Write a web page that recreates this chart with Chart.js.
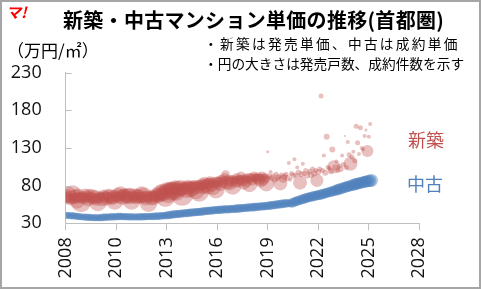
<!DOCTYPE html>
<html><head><meta charset="utf-8">
<script src="https://cdn.jsdelivr.net/npm/chart.js@4"></script>
<style>
body{margin:0;background:#fff;}
#wrap{position:relative;width:481px;height:289px;overflow:hidden;background:#fff;font-family:'Noto Sans CJK JP',sans-serif;}
#c{position:absolute;left:0;top:0;}
.t{position:absolute;white-space:nowrap;}
#frame{position:absolute;left:0;top:0;width:481px;height:289px;box-sizing:border-box;border:2px solid #a6a6a6;pointer-events:none;}
</style></head>
<body>
<div id="wrap">
<canvas id="c" width="481" height="289"></canvas>
<div class="t" style="left:6px;top:3px;font-size:15px;line-height:18px;font-weight:bold;font-style:italic;color:#ff0000;">マ!</div>
<div class="t" style="left:63px;top:10px;font-size:20px;line-height:20px;font-weight:bold;color:#000;letter-spacing:0.3px;">新築・中古マンション単価の推移(首都圏)</div>
<div class="t" style="left:7px;top:41px;font-size:17px;line-height:17px;color:#000;">（万円/㎡）</div>
<div class="t" style="left:204px;top:36px;font-size:13.7px;line-height:14px;color:#000;letter-spacing:2.3px;">・新築は発売単価、中古は成約単価</div>
<div class="t" style="left:204px;top:56px;font-size:13.7px;line-height:14px;color:#000;">・円の大きさは発売戸数、成約件数を示す</div>
<div class="t" style="left:408px;top:130px;font-size:18px;line-height:18px;color:#C0504D;">新築</div>
<div class="t" style="left:407px;top:174px;font-size:18px;line-height:18px;color:#4F81BD;">中古</div>
<div id="frame"></div>
</div>
<script>
// x axis: month index (0 = first tick), tick every 36 months
const xTickLabels = ["2008","2010","2013","2016","2019","2022","2025","2028"];
const yTicks = [30, 80, 130, 180, 230];

// 新築 (new condos): monthly unit price (万円/㎡) and bubble radius (sales volume)
const newY = [
  66,64,68,62,65,70,63,66,60,67,64,58,
  65,63,67,66,62,68,64,66,63,65,61,58,
  64,66,62,67,65,63,68,64,66,62,65,60,
  66,68,64,70,67,65,69,66,64,68,66,60,
  65,67,63,68,66,64,70,65,67,63,66,57,
  65,63,67,64,66,68,66,70,68,72,70,65,
  74,70,76,72,75,73,78,72,76,74,77,68,
  76,78,74,80,77,75,79,76,80,74,78,72,
  80,82,78,84,80,79,83,86,81,78,84,75,
  84,86,82,88,85,90,95,84,87,83,86,80,
  88,85,90,86,88,92,87,84,89,86,90,82,
  90,88,92,91,89,91,88,87,92,88,90,83,
  125,92,98,90,93,88,95,90,92,83,94,89,
  92,95,90,110,88,96,93,115,94,104,97,84,
  95,109,96,100,93,97,99,94,102,96,100,87,
  98,102,199,100,120,97,145,104,103,99,128,105,
  104,112,100,106,102,120,108,146,104,138,121,109,
  118,125,113,159,137,122,157,130,128,146,154,126,
  145,162
];
const newR = [
  7,6,8,6,7,8,6,7,8,7,6,10,
  6,6,7,6,7,6,6,7,6,7,6,9,
  6,5,7,6,6,7,6,6,7,6,7,9,
  6,7,6,7,6,8,6,7,6,7,8,9,
  6,7,6,6,7,6,7,6,8,7,6,9,
  6,7,6,7,6,7,7,8,7,8,8,10,
  8,10,7,9,8,9,7,9,8,7,8,11,
  7,6,8,6,7,8,6,7,6,9,7,10,
  6,6,7,6,7,8,6,5,7,8,6,9,
  6,5,7,5,6,5,4,7,6,7,6,9,
  5,6,5,6,5,5,6,7,5,6,5,8,
  5,6,5,4,5,5,6,7,5,6,5,8,
  1.5,3,2,3,2.5,3,2.5,3,2.5,7,2.5,4,
  3,2.5,3,2,2,2.5,3,2,2.5,2,3,7,
  3,2,2.5,2.5,3,2,2.5,3,2.5,3,2.5,6.5,
  3,2.5,2.5,2.5,2,3,3,2.5,2,3,3,6.5,
  3,2,2.5,2.5,3,2,2.5,1,2.5,2,2.5,7,
  2.5,2,2.5,2.5,2.5,2,2.5,2,2,2,1.5,6,
  2,2
];

// 中古 (resale condos): monthly contract unit price and bubble radius (contracts)
const usedY = [
  40.5,40.6,40.3,40.2,40.0,39.8,39.9,39.5,39.3,39.0,38.8,38.5,
  38.5,38.3,38.2,38.0,38.1,37.8,37.8,37.6,37.5,37.6,37.4,37.5,
  37.5,37.6,37.8,38.0,38.1,38.2,38.3,38.5,38.4,38.6,38.5,38.8,
  38.8,39.0,39.1,39.2,39.0,38.8,39.0,38.8,38.7,38.6,38.5,38.6,
  38.5,38.6,38.5,38.4,38.6,38.8,38.5,38.7,38.8,38.9,39.0,39.1,
  39.0,39.2,39.1,39.3,39.4,39.3,39.5,39.6,39.8,40.0,40.2,40.3,
  40.5,40.8,41.0,41.3,41.6,41.8,42.0,42.3,42.5,42.6,42.8,43.0,
  43.2,43.4,43.5,43.8,44.0,44.1,44.3,44.5,44.6,44.8,45.0,45.1,
  45.3,45.5,45.8,46.0,46.2,46.5,46.7,46.8,47.0,47.2,47.3,47.5,
  47.6,47.8,48.0,48.0,48.2,48.4,48.5,48.4,48.6,48.8,49.0,49.0,
  49.2,49.4,49.5,49.6,49.8,50.0,50.2,50.3,50.5,50.6,50.8,51.0,
  51.2,51.3,51.5,51.6,51.8,52.0,52.2,52.3,52.5,52.6,52.8,53.0,
  53.2,53.5,53.8,54.0,54.2,54.5,54.8,55.0,55.3,55.5,55.8,56.0,
  56.2,56.5,56.8,56.6,56.4,56.9,57.5,58.2,59.0,59.6,60.2,60.8,
  61.4,62.0,62.6,63.2,63.8,64.3,64.8,65.3,65.7,66.1,66.5,67.0,
  67.4,67.8,68.3,68.8,69.3,69.8,70.3,70.8,71.3,71.8,72.4,73.0,
  73.6,74.2,74.8,75.4,76.0,76.6,77.2,77.8,78.4,79.0,79.5,80.0,
  80.5,81.0,81.6,82.1,82.6,83.1,83.6,84.1,84.6,85.0,85.4,85.8,
  86.2,86.6,87.0
];
const usedR = [
  3.5,3.5,3.6,3.4,3.5,3.6,3.5,3.4,3.5,3.6,3.5,3.3,
  3.3,3.4,3.6,3.5,3.5,3.6,3.5,3.4,3.5,3.6,3.5,3.4,
  3.5,3.6,3.8,3.7,3.6,3.7,3.6,3.5,3.6,3.7,3.6,3.5,
  3.6,3.7,3.8,3.7,3.6,3.7,3.6,3.5,3.6,3.7,3.6,3.5,
  3.5,3.6,3.4,3.5,3.6,3.7,3.6,3.5,3.6,3.7,3.6,3.5,
  3.6,3.7,3.8,3.7,3.6,3.7,3.8,3.7,3.6,3.8,3.7,3.6,
  3.9,4.0,4.1,4.0,4.0,4.1,4.0,3.9,4.0,4.1,4.0,3.9,
  3.9,4.0,4.1,4.0,4.0,4.1,4.0,3.9,4.0,4.1,4.0,3.9,
  4.0,4.1,4.2,4.1,4.0,4.1,4.0,4.0,4.1,4.2,4.1,4.0,
  4.0,4.1,4.2,4.1,4.0,4.1,4.0,4.0,4.1,4.2,4.1,4.0,
  4.1,4.2,4.3,4.2,4.1,4.2,4.1,4.1,4.2,4.3,4.2,4.1,
  4.1,4.2,4.3,4.2,4.1,4.2,4.1,4.1,4.2,4.3,4.2,4.1,
  4.2,4.3,4.4,4.3,4.2,4.3,4.2,4.2,4.3,4.4,4.3,4.2,
  4.2,4.3,4.2,3.8,3.9,4.6,4.8,4.7,4.8,4.9,4.8,4.7,
  4.9,5.0,5.1,5.0,4.9,5.0,4.9,4.9,5.0,5.1,5.0,4.9,
  5.0,5.1,5.2,5.1,5.0,5.1,5.0,5.0,5.1,5.2,5.1,5.0,
  5.4,5.5,5.7,5.6,5.5,5.6,5.5,5.5,5.6,5.7,5.6,5.5,
  5.8,5.9,6.1,6.0,5.9,6.0,5.9,5.9,6.0,6.1,6.0,5.9,
  6.2,6.3,6.4
];

const innerTicks = {
  id: 'innerTicks',
  afterDraw(chart) {
    const ys = chart.scales.y, a = chart.chartArea, ctx = chart.ctx;
    ctx.save();
    ctx.strokeStyle = '#bfbfbf';
    ctx.lineWidth = 1;
    ys.ticks.forEach(t => {
      if (t.value === yTicks[0]) return;
      const py = Math.round(ys.getPixelForValue(t.value)) + 0.5;
      ctx.beginPath();
      ctx.moveTo(a.left, py);
      ctx.lineTo(a.left + 6, py);
      ctx.stroke();
    });
    ctx.restore();
  }
};

new Chart(document.getElementById('c'), {
  type: 'bubble',
  data: {
    datasets: [
      {
        label: '中古',
        data: usedY.map((v, i) => ({ x: i, y: v, r: usedR[i] })),
        backgroundColor: 'rgba(79,129,189,0.42)',
        borderWidth: 0
      },
      {
        label: '新築',
        data: newY.map((v, i) => ({ x: i, y: v, r: newR[i] })),
        backgroundColor: 'rgba(192,80,77,0.36)',
        borderWidth: 0
      }
    ]
  },
  options: {
    responsive: false,
    devicePixelRatio: 1,
    animation: false,
    events: [],
    layout: { padding: { top: 72.7, right: 61.7, bottom: 0, left: 0 } },
    plugins: { legend: { display: false }, tooltip: { enabled: false }, title: { display: false } },
    scales: {
      x: {
        type: 'linear',
        min: 0,
        max: 252,
        afterFit(s) { s.height = 65.7; },
        afterBuildTicks(s) { s.ticks = xTickLabels.map((_, i) => ({ value: i * 36 })); },
        ticks: {
          autoSkip: false,
          maxRotation: 90,
          minRotation: 90,
          padding: 7,
          color: '#111',
          font: { family: "'Open Sans', sans-serif", size: 18 },
          callback: (v, i) => xTickLabels[i]
        },
        grid: { drawOnChartArea: false, drawTicks: true, tickLength: 7, color: '#bfbfbf' },
        border: { display: true, color: '#bfbfbf', width: 1 }
      },
      y: {
        min: yTicks[0],
        max: yTicks[yTicks.length - 1],
        afterFit(s) { s.width = 65.7; },
        afterBuildTicks(s) { s.ticks = yTicks.map(v => ({ value: v })); },
        ticks: {
          padding: 24,
          color: '#111',
          font: { family: "'Open Sans', sans-serif", size: 18 }
        },
        grid: { drawOnChartArea: false, drawTicks: false },
        border: { display: true, color: '#bfbfbf', width: 1 }
      }
    }
  },
  plugins: [innerTicks]
});
</script>
</body></html>
